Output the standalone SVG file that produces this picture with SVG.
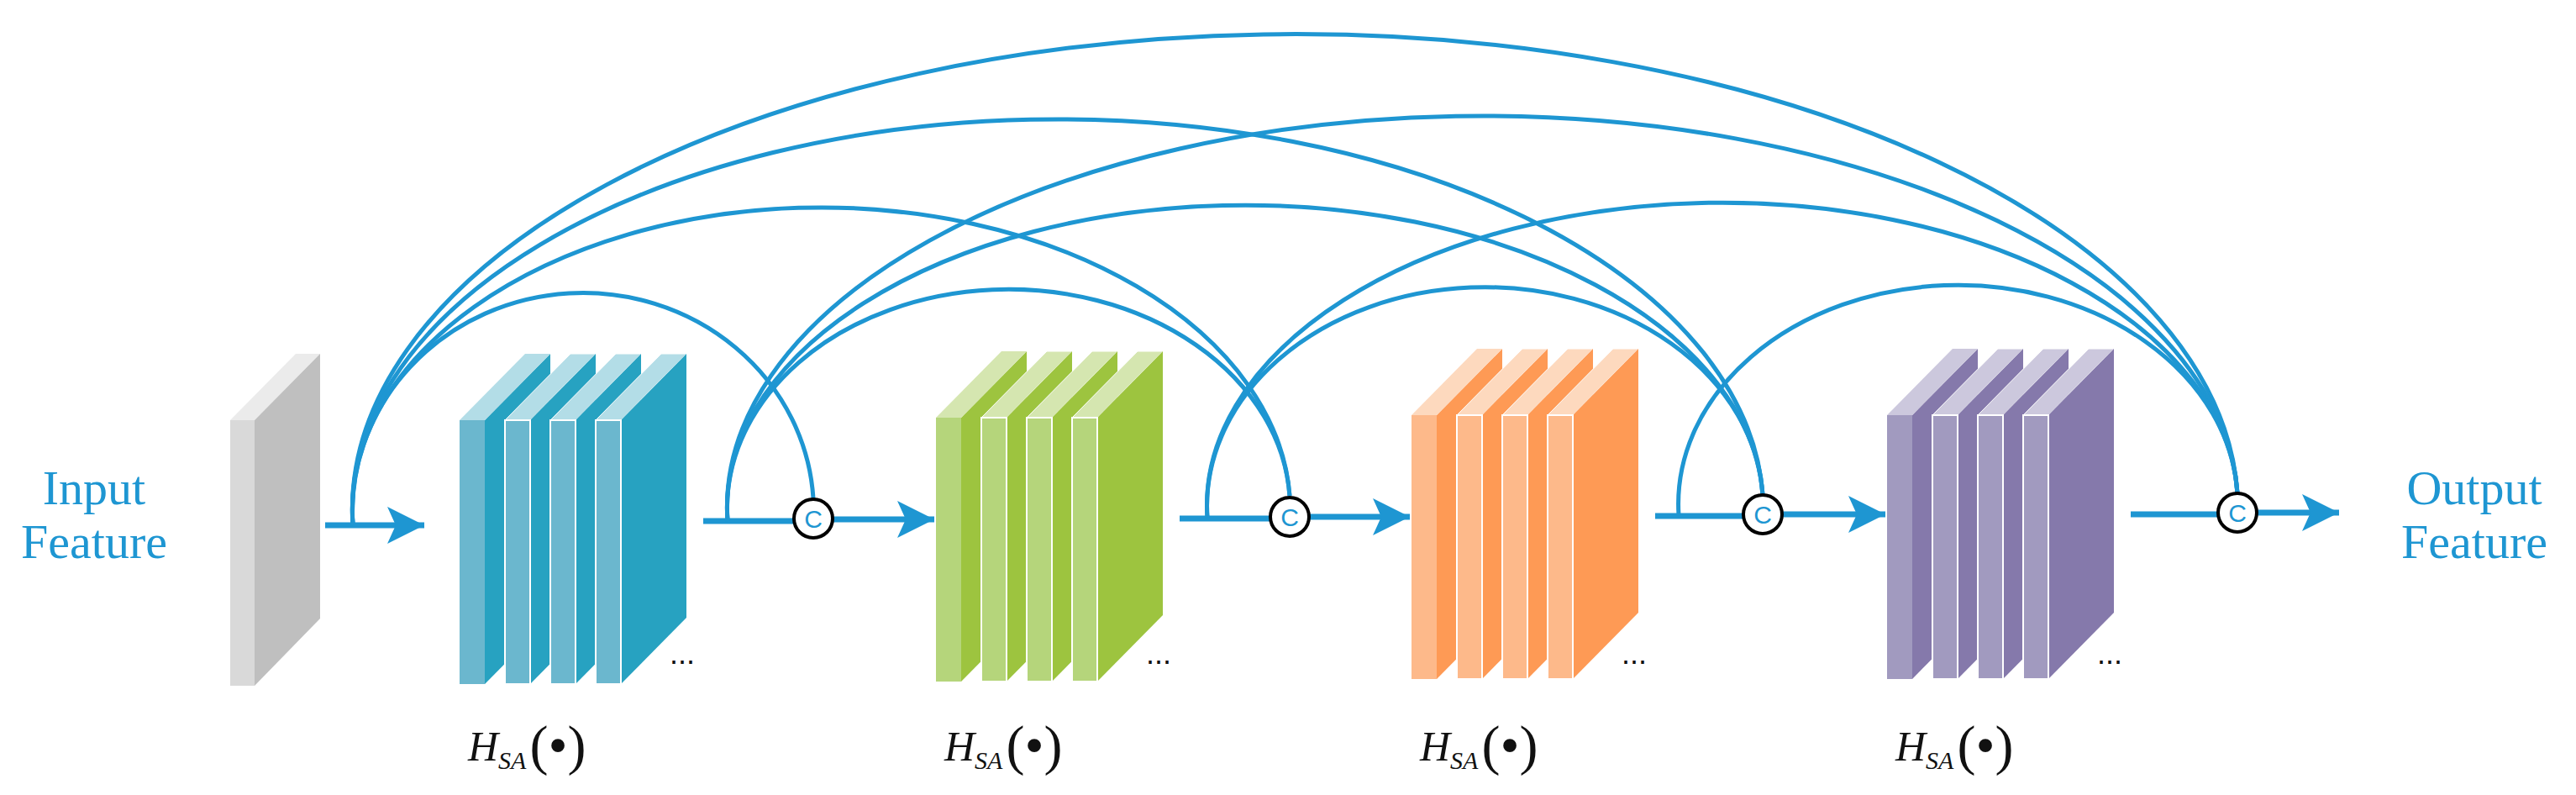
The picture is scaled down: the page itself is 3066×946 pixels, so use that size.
<svg xmlns="http://www.w3.org/2000/svg" width="3066" height="946" viewBox="0 0 3066 946">
<style>
.ln{fill:none;stroke:#1E96D2;stroke-width:5}
.fl{fill:none;stroke:#1E96D2;stroke-width:7}
.lbl{font-family:"Liberation Serif",serif;font-size:58px;fill:#1E96D2;text-anchor:middle}
.h{font-family:"Liberation Serif",serif;font-size:50px;font-style:italic;fill:#111}
.dots{font-family:"Liberation Sans",sans-serif;font-size:36px;fill:#111}
.cc{fill:#fff;stroke:#000;stroke-width:4}
.ct{font-family:"Liberation Sans",sans-serif;font-size:30px;fill:#1E96D2;text-anchor:middle}
</style>
<defs>
<marker id="ah" markerUnits="userSpaceOnUse" markerWidth="48" markerHeight="48" refX="44" refY="22" orient="auto" viewBox="0 0 48 48"><path d="M0,0 L44,22 L0,44 L10,22 Z" fill="#1E96D2"/></marker>
</defs>
<g id="input-label"><text class="lbl" x="112" y="600">Input</text><text class="lbl" x="112" y="664">Feature</text></g>
<g id="output-label"><text class="lbl" x="2945" y="600">Output</text><text class="lbl" x="2945" y="664">Feature</text></g>
<g id="input-slab">
<polygon points="274,500 303,500 381,421 352,421" fill="#EBEBEB"/>
<polygon points="303,500 381,421 381,736 303,816" fill="#BFBFBF"/>
<rect x="274" y="500" width="29" height="316" fill="#D9D9D9"/>
</g>
<g id="block1">
<polygon points="577,500 655,421 655,735 577,814" fill="#27A2C1"/><polygon points="547,500 577,500 655,421 625,421" fill="#B3DDE7"/><rect x="547" y="500" width="30" height="314" fill="#6BB7CE"/>
<polygon points="601,500 631,500 709,421 679,421" fill="#B3DDE7" stroke="#fff"/><polygon points="631,500 709,421 709,735 631,814" fill="#27A2C1"/><rect x="601" y="500" width="30" height="314" fill="#6BB7CE" stroke="#fff" stroke-width="2"/>
<polygon points="655,500 685,500 763,421 733,421" fill="#B3DDE7" stroke="#fff"/><polygon points="685,500 763,421 763,735 685,814" fill="#27A2C1"/><rect x="655" y="500" width="30" height="314" fill="#6BB7CE" stroke="#fff" stroke-width="2"/>
<polygon points="709,500 739,500 817,421 787,421" fill="#B3DDE7" stroke="#fff"/><polygon points="739,500 817,421 817,735 739,814" fill="#27A2C1"/><rect x="709" y="500" width="30" height="314" fill="#6BB7CE" stroke="#fff" stroke-width="2"/>
<text class="dots" x="797" y="790">...</text>
<text class="h" x="557" y="905">H<tspan font-size="30" dy="10">SA</tspan><tspan font-style="normal" font-size="66" dy="-6" dx="4">(•)</tspan></text>
</g>
<g id="block2" transform="translate(567,-3)">
<polygon points="577,500 655,421 655,735 577,814" fill="#9DC43F"/><polygon points="547,500 577,500 655,421 625,421" fill="#D5E6B0"/><rect x="547" y="500" width="30" height="314" fill="#B5D57B"/>
<polygon points="601,500 631,500 709,421 679,421" fill="#D5E6B0" stroke="#fff"/><polygon points="631,500 709,421 709,735 631,814" fill="#9DC43F"/><rect x="601" y="500" width="30" height="314" fill="#B5D57B" stroke="#fff" stroke-width="2"/>
<polygon points="655,500 685,500 763,421 733,421" fill="#D5E6B0" stroke="#fff"/><polygon points="685,500 763,421 763,735 685,814" fill="#9DC43F"/><rect x="655" y="500" width="30" height="314" fill="#B5D57B" stroke="#fff" stroke-width="2"/>
<polygon points="709,500 739,500 817,421 787,421" fill="#D5E6B0" stroke="#fff"/><polygon points="739,500 817,421 817,735 739,814" fill="#9DC43F"/><rect x="709" y="500" width="30" height="314" fill="#B5D57B" stroke="#fff" stroke-width="2"/>
<text class="dots" x="797" y="793">...</text>
<text class="h" x="557" y="908">H<tspan font-size="30" dy="10">SA</tspan><tspan font-style="normal" font-size="66" dy="-6" dx="4">(•)</tspan></text>
</g>
<g id="block3" transform="translate(1133,-6)">
<polygon points="577,500 655,421 655,735 577,814" fill="#FE9A55"/><polygon points="547,500 577,500 655,421 625,421" fill="#FDD9BE"/><rect x="547" y="500" width="30" height="314" fill="#FDB98A"/>
<polygon points="601,500 631,500 709,421 679,421" fill="#FDD9BE" stroke="#fff"/><polygon points="631,500 709,421 709,735 631,814" fill="#FE9A55"/><rect x="601" y="500" width="30" height="314" fill="#FDB98A" stroke="#fff" stroke-width="2"/>
<polygon points="655,500 685,500 763,421 733,421" fill="#FDD9BE" stroke="#fff"/><polygon points="685,500 763,421 763,735 685,814" fill="#FE9A55"/><rect x="655" y="500" width="30" height="314" fill="#FDB98A" stroke="#fff" stroke-width="2"/>
<polygon points="709,500 739,500 817,421 787,421" fill="#FDD9BE" stroke="#fff"/><polygon points="739,500 817,421 817,735 739,814" fill="#FE9A55"/><rect x="709" y="500" width="30" height="314" fill="#FDB98A" stroke="#fff" stroke-width="2"/>
<text class="dots" x="797" y="796">...</text>
<text class="h" x="557" y="911">H<tspan font-size="30" dy="10">SA</tspan><tspan font-style="normal" font-size="66" dy="-6" dx="4">(•)</tspan></text>
</g>
<g id="block4" transform="translate(1699,-6)">
<polygon points="577,500 655,421 655,735 577,814" fill="#8579AB"/><polygon points="547,500 577,500 655,421 625,421" fill="#CCC8DD"/><rect x="547" y="500" width="30" height="314" fill="#A19ABF"/>
<polygon points="601,500 631,500 709,421 679,421" fill="#CCC8DD" stroke="#fff"/><polygon points="631,500 709,421 709,735 631,814" fill="#8579AB"/><rect x="601" y="500" width="30" height="314" fill="#A19ABF" stroke="#fff" stroke-width="2"/>
<polygon points="655,500 685,500 763,421 733,421" fill="#CCC8DD" stroke="#fff"/><polygon points="685,500 763,421 763,735 685,814" fill="#8579AB"/><rect x="655" y="500" width="30" height="314" fill="#A19ABF" stroke="#fff" stroke-width="2"/>
<polygon points="709,500 739,500 817,421 787,421" fill="#CCC8DD" stroke="#fff"/><polygon points="739,500 817,421 817,735 739,814" fill="#8579AB"/><rect x="709" y="500" width="30" height="314" fill="#A19ABF" stroke="#fff" stroke-width="2"/>
<text class="dots" x="797" y="796">...</text>
<text class="h" x="557" y="911">H<tspan font-size="30" dy="10">SA</tspan><tspan font-style="normal" font-size="66" dy="-6" dx="4">(•)</tspan></text>
</g>
<g id="connectors">
<path class="fl" d="M387,625 H505" marker-end="url(#ah)"/>
<path class="fl" d="M837,620 H945"/><path class="fl" d="M991,618 H1112" marker-end="url(#ah)"/>
<path class="fl" d="M1404,617 H1512"/><path class="fl" d="M1558,615 H1678" marker-end="url(#ah)"/>
<path class="fl" d="M1970,614 H2075"/><path class="fl" d="M2121,612 H2244" marker-end="url(#ah)"/>
<path class="fl" d="M2536,612 H2640"/><path class="fl" d="M2686,610 H2784" marker-end="url(#ah)"/>
<path class="ln" d="M420,625 A274,260 0 0 1 968,593"/>
<path class="ln" d="M420,625 A557,360 0 0 1 1535,590"/>
<path class="ln" d="M420,625 A839,465 0 0 1 2098,589"/>
<path class="ln" d="M420,625 A1121,565 0 0 1 2663,587"/>
<path class="ln" d="M866,620 A334,260 0 0 1 1535,590"/>
<path class="ln" d="M866,620 A616,360 0 0 1 2098,589"/>
<path class="ln" d="M866,620 A898,465 0 0 1 2663,587"/>
<path class="ln" d="M1437,616 A330,260 0 0 1 2098,589"/>
<path class="ln" d="M1437,616 A613,360 0 0 1 2663,587"/>
<path class="ln" d="M1998,613 A332,260 0 0 1 2663,587"/>
</g>
<g id="concat1"><circle class="cc" cx="968" cy="617" r="23"/><text class="ct" x="968" y="628">C</text></g>
<g id="concat2"><circle class="cc" cx="1535" cy="615" r="23"/><text class="ct" x="1535" y="626">C</text></g>
<g id="concat3"><circle class="cc" cx="2098" cy="612" r="23"/><text class="ct" x="2098" y="623">C</text></g>
<g id="concat4"><circle class="cc" cx="2663" cy="610" r="23"/><text class="ct" x="2663" y="621">C</text></g>
</svg>
